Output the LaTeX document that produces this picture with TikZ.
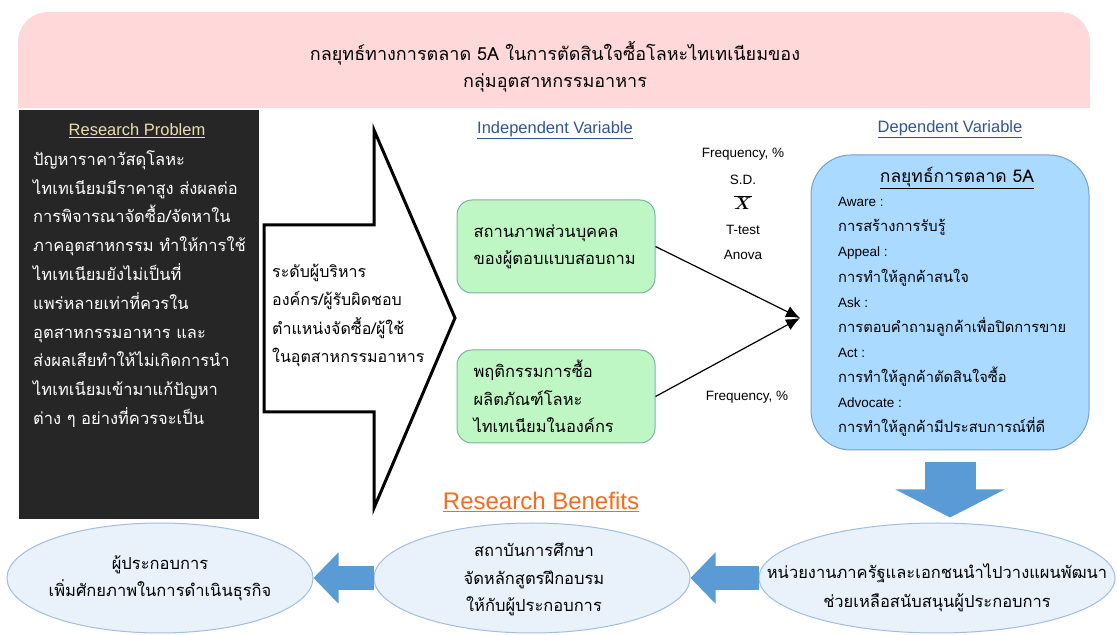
\documentclass[tikz,border=0pt]{standalone}
\usepackage{fontspec}
\usepackage{bm}
\setmainfont{Liberation Sans}
\newfontfamily\thaifont[Script=Thai]{Loma}
\usetikzlibrary{arrows.meta,shapes.geometric}
\definecolor{bannerpink}{RGB}{255,217,218}
\definecolor{problemgray}{RGB}{38,38,38}
\definecolor{problemtan}{RGB}{236,222,172}
\definecolor{varblue}{RGB}{47,85,151}
\definecolor{boxgreen}{RGB}{191,247,196}
\definecolor{edgegreen}{RGB}{122,178,168}
\definecolor{boxblue}{RGB}{170,218,255}
\definecolor{edgeblue}{RGB}{118,160,206}
\definecolor{ovalblue}{RGB}{233,241,250}
\definecolor{ovaledge}{RGB}{160,190,224}
\definecolor{arrowblue}{RGB}{91,155,213}
\definecolor{benefitorange}{RGB}{245,108,32}
\begin{document}
\begin{tikzpicture}[>=latex,line join=miter,
  heading/.style={font={\fontsize{16.5bp}{20bp}\selectfont},text=varblue},
  stat/.style={font={\fontsize{13.5bp}{16bp}\selectfont}},
  varbox/.style={draw=edgegreen,fill=boxgreen,line width=1bp,rounded corners=15bp,minimum height=93bp,text width=165bp,inner xsep=16.5bp,align=left},
  oval/.style={ellipse,draw=ovaledge,fill=ovalblue,line width=1bp,minimum height=110bp,inner sep=0pt},
  leftarrow/.style={arrowblue,line width=24bp,-{Triangle[length=25bp,width=50bp]}},
  downarrow/.style={arrowblue,line width=51bp,-{Triangle[length=28bp,width=108bp]}},
  ]
\useasboundingbox (0bp,0bp) rectangle (1117bp,635bp);
%%
\fill [bannerpink,rounded corners=30bp] (18bp,527bp) rectangle (1090bp,623bp);
  \fill [bannerpink] (18bp,527bp) rectangle (1090bp,590bp);
  \node (node_title) at (555bp,568.5bp) [align=center,font={\thaifont\fontsize{18bp}{27bp}\selectfont}] {กลยุทธ์ทางการตลาด 5A ในการตัดสินใจซื้อโลหะไทเทเนียมของ\\กลุ่มอุตสาหกรรมอาหาร};
%
\node (node_problem) at (139bp,320.5bp) [fill=problemgray,minimum width=240bp,minimum height=409bp,inner sep=0pt] {};
  \node (node_problem_head) at (137bp,504bp) [font={\fontsize{16.5bp}{20bp}\selectfont},text=problemtan] {\underline{Research Problem}};
  \node (node_problem_text) at (33bp,346bp) [anchor=west,align=left,inner sep=0pt,text=white,font={\thaifont\fontsize{16.5bp}{28.8bp}\selectfont}] {ปัญหาราคาวัสดุโลหะ\\ไทเทเนียมมีราคาสูง ส่งผลต่อ\\การพิจารณาจัดซื้อ/จัดหาใน\\ภาคอุตสาหกรรม ทำให้การใช้\\ไทเทเนียมยังไม่เป็นที่\\แพร่หลายเท่าที่ควรใน\\อุตสาหกรรมอาหาร และ\\ส่งผลเสียทำให้ไม่เกิดการนำ\\ไทเทเนียมเข้ามาแก้ปัญหา\\ต่าง ๆ อย่างที่ควรจะเป็น};
%
\draw [black,line width=3bp,fill=white] (264bp,410bp) -- (374bp,410bp) -- (374bp,505bp) -- (455bp,317bp) -- (374bp,127bp) -- (374bp,223bp) -- (264bp,223bp) -- cycle;
  \node (node_actors) at (272bp,319.5bp) [anchor=west,align=left,inner sep=0pt,font={\thaifont\fontsize{16bp}{28.3bp}\selectfont}] {ระดับผู้บริหาร\\องค์กร/ผู้รับผิดชอบ\\ตำแหน่งจัดซื้อ/ผู้ใช้\\ในอุตสาหกรรมอาหาร};
%
\node (node_independent) at (555bp,505bp) [heading] {\underline{Independent Variable}};
  \node (node_personal) at (556bp,388.5bp) [varbox,font={\thaifont\fontsize{16.5bp}{27bp}\selectfont}] {สถานภาพส่วนบุคคล\\ของผู้ตอบแบบสอบถาม};
  \node (node_behaviour) at (556bp,238.5bp) [varbox,font={\thaifont\fontsize{16.5bp}{27.5bp}\selectfont}] {พฤติกรรมการซื้อ\\ผลิตภัณฑ์โลหะ\\ไทเทเนียมในองค์กร};
%
\node (node_freq_top) at (743bp,481bp) [stat] {Frequency, \%};
  \node (node_sd) at (743bp,455bp) [stat] {S.D.};
  \node (node_mean) at (743bp,432bp) [font={\fontsize{17bp}{20bp}\selectfont}] {$\overline{\bm{X}}$};
  \node (node_ttest) at (743bp,405bp) [stat] {T-test};
  \node (node_anova) at (743bp,380bp) [stat] {Anova};
  \node (node_freq_bottom) at (747bp,238bp) [stat] {Frequency, \%};
  \coordinate (node_meet) at (800bp,317bp);
  \draw [black,line width=1.2bp,-{Latex[length=14bp,width=12bp]}] (node_personal.east) -- (node_meet);
  \draw [black,line width=1.2bp,-{Latex[length=14bp,width=12bp]}] (node_behaviour.east) -- (node_meet);
%
\node (node_dependent_head) at (950bp,506bp) [heading] {\underline{Dependent Variable}};
  \node (node_dependent) at (950bp,332.5bp) [draw=edgeblue,fill=boxblue,line width=1bp,rounded corners=40bp,minimum width=278bp,minimum height=295bp] {};
  \node (node_fivea) at (957bp,457bp) [font={\thaifont\fontsize{17.5bp}{20bp}\selectfont}] {\underline{กลยุทธ์การตลาด 5A}};
  \node (node_fivea_list) at (838bp,318bp) [anchor=west,align=left,inner sep=0pt,font={\thaifont\fontsize{14.7bp}{25.1bp}\selectfont}] {{\rmfamily\fontsize{13.5bp}{25.1bp}\selectfont Aware :}\\การสร้างการรับรู้\\{\rmfamily\fontsize{13.5bp}{25.1bp}\selectfont Appeal :}\\การทำให้ลูกค้าสนใจ\\{\rmfamily\fontsize{13.5bp}{25.1bp}\selectfont Ask :}\\การตอบคำถามลูกค้าเพื่อปิดการขาย\\{\rmfamily\fontsize{13.5bp}{25.1bp}\selectfont Act :}\\การทำให้ลูกค้าตัดสินใจซื้อ\\{\rmfamily\fontsize{13.5bp}{25.1bp}\selectfont Advocate :}\\การทำให้ลูกค้ามีประสบการณ์ที่ดี};
%
\node (node_benefits) at (541bp,133bp) [font={\fontsize{24bp}{28bp}\selectfont},text=benefitorange] {\underline{Research Benefits}};
  \node (node_owner) at (160bp,57bp) [oval,minimum width=306bp] {};
  \node (node_school) at (532bp,57bp) [oval,minimum width=316bp] {};
  \node (node_gov) at (937bp,57bp) [oval,minimum width=356bp] {};
  \node (node_owner_text) at (160bp,56.5bp) [align=center,font={\thaifont\fontsize{16.5bp}{27bp}\selectfont}] {ผู้ประกอบการ\\เพิ่มศักยภาพในการดำเนินธุรกิจ};
  \node (node_school_text) at (534bp,55.5bp) [align=center,font={\thaifont\fontsize{16.5bp}{27.5bp}\selectfont}] {สถาบันการศึกษา\\จัดหลักสูตรฝึกอบรม\\ให้กับผู้ประกอบการ};
  \node (node_gov_text) at (937bp,47.5bp) [align=center,font={\thaifont\fontsize{16.5bp}{29bp}\selectfont}] {หน่วยงานภาครัฐและเอกชนนำไปวางแผนพัฒนา\\ช่วยเหลือสนับสนุนผู้ประกอบการ};
  \draw [downarrow] ([yshift=-12bp]node_dependent.south) -- ([yshift=5bp]node_dependent.south |- node_gov.north);
  \draw [leftarrow] (node_school.west) -- (node_owner.east);
  \draw [leftarrow] (node_gov.west) -- (node_school.east);
%
\end{tikzpicture}
\end{document}
